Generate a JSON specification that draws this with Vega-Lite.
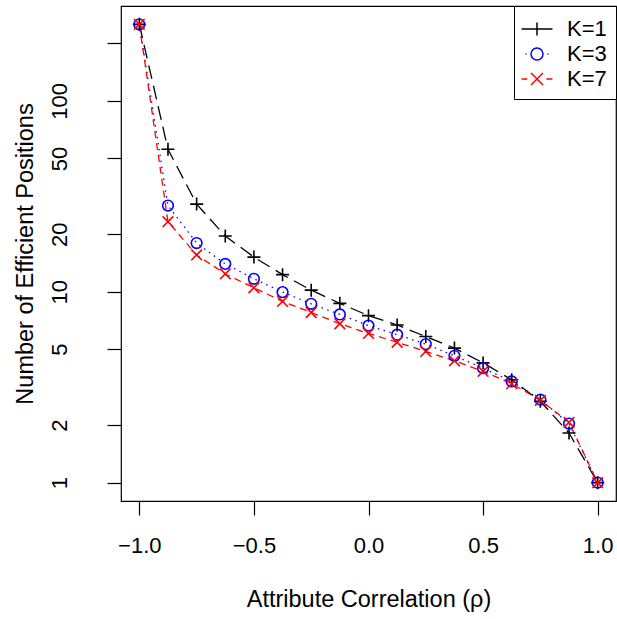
{
  "$schema": "https://vega.github.io/schema/vega-lite/v6.json",
  "width": 495,
  "height": 495,
  "autosize": {"type": "none"},
  "padding": {"left": 121, "top": 6, "right": 1, "bottom": 118},
  "background": "white",
  "config": {
    "view": {"stroke": "black", "strokeWidth": 1.2},
    "font": "Liberation Sans",
    "axis": {
      "grid": false,
      "domain": false,
      "tickColor": "black",
      "tickSize": 14,
      "tickWidth": 1.2,
      "labelColor": "black",
      "labelFont": "Liberation Sans",
      "labelFontSize": 22,
      "titleFont": "Liberation Sans",
      "titleFontSize": 23.5,
      "titleFontWeight": "normal",
      "titleColor": "black"
    },
    "legend": {
      "labelFont": "Liberation Sans",
      "labelFontSize": 22,
      "labelColor": "black"
    }
  },
  "data": {
    "values": [
      {"x": -1, "y": 252, "K": "K=1"},
      {"x": -0.875, "y": 55.8, "K": "K=1"},
      {"x": -0.75, "y": 28.8, "K": "K=1"},
      {"x": -0.625, "y": 19.6, "K": "K=1"},
      {"x": -0.5, "y": 15.2, "K": "K=1"},
      {"x": -0.375, "y": 12.3, "K": "K=1"},
      {"x": -0.25, "y": 10.2, "K": "K=1"},
      {"x": -0.125, "y": 8.7, "K": "K=1"},
      {"x": 0, "y": 7.5, "K": "K=1"},
      {"x": 0.125, "y": 6.7, "K": "K=1"},
      {"x": 0.25, "y": 5.83, "K": "K=1"},
      {"x": 0.375, "y": 5.07, "K": "K=1"},
      {"x": 0.5, "y": 4.24, "K": "K=1"},
      {"x": 0.625, "y": 3.46, "K": "K=1"},
      {"x": 0.75, "y": 2.67, "K": "K=1"},
      {"x": 0.875, "y": 1.82, "K": "K=1"},
      {"x": 1, "y": 1, "K": "K=1"},
      {"x": -1, "y": 252, "K": "K=3"},
      {"x": -0.875, "y": 28.3, "K": "K=3"},
      {"x": -0.75, "y": 18.0, "K": "K=3"},
      {"x": -0.625, "y": 14.0, "K": "K=3"},
      {"x": -0.5, "y": 11.7, "K": "K=3"},
      {"x": -0.375, "y": 9.96, "K": "K=3"},
      {"x": -0.25, "y": 8.65, "K": "K=3"},
      {"x": -0.125, "y": 7.61, "K": "K=3"},
      {"x": 0, "y": 6.65, "K": "K=3"},
      {"x": 0.125, "y": 5.96, "K": "K=3"},
      {"x": 0.25, "y": 5.32, "K": "K=3"},
      {"x": 0.375, "y": 4.62, "K": "K=3"},
      {"x": 0.5, "y": 3.98, "K": "K=3"},
      {"x": 0.625, "y": 3.39, "K": "K=3"},
      {"x": 0.75, "y": 2.72, "K": "K=3"},
      {"x": 0.875, "y": 2.04, "K": "K=3"},
      {"x": 1, "y": 1, "K": "K=3"},
      {"x": -1, "y": 252, "K": "K=7"},
      {"x": -0.875, "y": 23.3, "K": "K=7"},
      {"x": -0.75, "y": 15.6, "K": "K=7"},
      {"x": -0.625, "y": 12.4, "K": "K=7"},
      {"x": -0.5, "y": 10.5, "K": "K=7"},
      {"x": -0.375, "y": 8.9, "K": "K=7"},
      {"x": -0.25, "y": 7.79, "K": "K=7"},
      {"x": -0.125, "y": 6.8, "K": "K=7"},
      {"x": 0, "y": 6.05, "K": "K=7"},
      {"x": 0.125, "y": 5.44, "K": "K=7"},
      {"x": 0.25, "y": 4.87, "K": "K=7"},
      {"x": 0.375, "y": 4.35, "K": "K=7"},
      {"x": 0.5, "y": 3.83, "K": "K=7"},
      {"x": 0.625, "y": 3.3, "K": "K=7"},
      {"x": 0.75, "y": 2.7, "K": "K=7"},
      {"x": 0.875, "y": 2.07, "K": "K=7"},
      {"x": 1, "y": 1, "K": "K=7"}
    ]
  },
  "encoding": {
    "x": {
      "field": "x",
      "type": "quantitative",
      "scale": {"domain": [-1.08, 1.08], "nice": false, "zero": false},
      "axis": {
        "values": [-1, -0.5, 0, 0.5, 1],
        "format": ".1f",
        "labelPadding": 20,
        "title": "Attribute Correlation (ρ)",
        "titlePadding": 31
      }
    },
    "y": {
      "field": "y",
      "type": "quantitative",
      "scale": {"type": "log", "domain": [0.8014, 314.4], "nice": false},
      "axis": {
        "values": [1, 2, 5, 10, 20, 50, 100, 200],
        "format": "d",
        "labelExpr": "datum.value == 200 ? '' : datum.label",
        "labelAngle": 270,
        "labelAlign": "center",
        "labelBaseline": "alphabetic",
        "labelPadding": 41,
        "title": "Number of Efficient Positions",
        "titlePadding": 11
      }
    }
  },
  "layer": [
    {
      "mark": {"type": "line", "strokeWidth": 1.3},
      "encoding": {
        "color": {
          "field": "K",
          "type": "nominal",
          "scale": {"domain": ["K=1", "K=3", "K=7"], "range": ["black", "#0000FF", "#FF0000"]},
          "legend": null
        },
        "strokeDash": {
          "field": "K",
          "type": "nominal",
          "scale": {"domain": ["K=1", "K=3", "K=7"], "range": [[14, 7], [1.5, 4.5], [7, 5]]},
          "legend": null
        }
      }
    },
    {
      "mark": {"type": "point", "filled": false, "strokeWidth": 1.6, "size": 169, "opacity": 1},
      "encoding": {
        "color": {
          "field": "K",
          "type": "nominal",
          "scale": {"domain": ["K=1", "K=3", "K=7"], "range": ["black", "#0000FF", "#FF0000"]},
          "legend": null
        },
        "shape": {
          "field": "K",
          "type": "nominal",
          "scale": {
            "domain": ["K=1", "K=3", "K=7"],
            "range": [
              "M-1,0L1,0M0,-1L0,1",
              "M0.82,0A0.82,0.82,0,1,1,-0.82,0A0.82,0.82,0,1,1,0.82,0Z",
              "M-0.82,-0.82L0.82,0.82M-0.82,0.82L0.82,-0.82"
            ]
          },
          "legend": null
        }
      }
    },
    {
      "transform": [{"filter": "datum.x > 5"}],
      "mark": {"type": "point", "filled": false, "strokeWidth": 1.5, "size": 676, "opacity": 1},
      "encoding": {
        "color": {
          "field": "K",
          "type": "nominal",
          "scale": {"domain": ["K=1", "K=3", "K=7"], "range": ["black", "#0000FF", "#FF0000"]},
          "legend": {
            "title": null,
            "orient": "top-right",
            "offset": 0,
            "padding": 9,
            "strokeColor": "black",
            "fillColor": "white",
            "symbolSize": 676,
            "symbolStrokeWidth": 1.5,
            "labelOffset": 16,
            "rowPadding": -1.5
          }
        },
        "shape": {
          "field": "K",
          "type": "nominal",
          "scale": {
            "domain": ["K=1", "K=3", "K=7"],
            "range": [
              "M-1.19,0L1.19,0M0,-0.5L0,0.5",
              "M0.46,0A0.46,0.46,0,1,1,-0.46,0A0.46,0.46,0,1,1,0.46,0ZM-0.88,0L-0.8,0M0.8,0L0.88,0",
              "M-0.46,-0.46L0.46,0.46M-0.46,0.46L0.46,-0.46M-1.19,0L-0.75,0M0.72,0L1.19,0"
            ]
          },
          "legend": {
            "title": null,
            "orient": "top-right",
            "offset": 0,
            "padding": 9,
            "strokeColor": "black",
            "fillColor": "white",
            "symbolSize": 676,
            "symbolStrokeWidth": 1.5,
            "labelOffset": 16,
            "rowPadding": -1.5
          }
        }
      }
    }
  ],
  "resolve": {
    "scale": {"color": "independent", "shape": "independent", "strokeDash": "independent"}
  }
}
